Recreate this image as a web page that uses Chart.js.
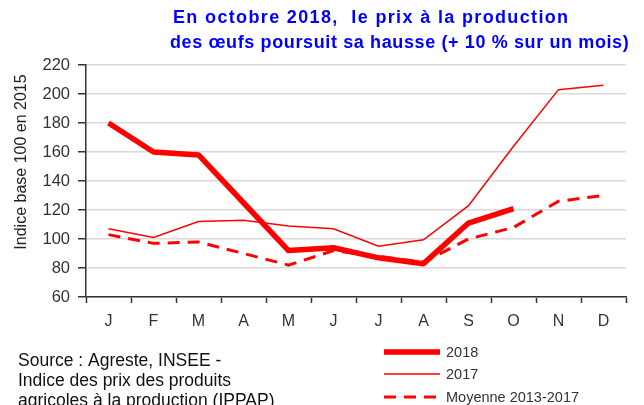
<!DOCTYPE html>
<html>
<head>
<meta charset="utf-8">
<script src="https://cdn.jsdelivr.net/npm/chart.js@4"></script>
<style>
  html, body { margin: 0; padding: 0; background: #fff; }
  #wrap { width: 644px; height: 405px; position: relative; }
</style>
</head>
<body>
<div id="wrap"><canvas id="myChart"></canvas></div>
<script>
"use strict";

const months = ['J', 'F', 'M', 'A', 'M', 'J', 'J', 'A', 'S', 'O', 'N', 'D'];
const values2018 = [180, 160, 158, 125, 92, 94, 87, 83, 111, 121, null, null];
const values2017 = [107, 101, 112, 113, 109, 107, 95, 99.5, 123, 164, 203, 206];
const valuesMoyenne = [103, 97, 98, 90, 82, 92, 88, 84, 100, 108, 126, 130];
const yTicks = { min: 60, max: 220, step: 20 };

const titleLines = [
    'En octobre 2018,  le prix à la production',
    'des œufs poursuit sa hausse (+ 10 % sur un mois)'
];
const yTitle = 'Indice base 100 en 2015';
const sourceLines = [
    'Source : Agreste, INSEE -',
    'Indice des prix des produits',
    'agricoles à la production (IPPAP)'
];

const FONT = '"Liberation Sans", Arial, sans-serif';

const extrasPlugin = {
    id: 'extras',
    afterDraw(chart) {
        const ctx = chart.ctx;
        ctx.save();

        // title, the source has rather loose letter spacing
        ctx.font = `bold 18px ${FONT}`;
        ctx.fillStyle = '#0000ff';
        ctx.textAlign = 'left';
        ctx.textBaseline = 'middle';
        ctx.letterSpacing = '1.35px';
        ctx.fillText(titleLines[0], 173, 18);
        ctx.letterSpacing = '0.62px';
        ctx.fillText(titleLines[1], 170, 43);
        ctx.letterSpacing = '0px';

        // y axis title
        ctx.save();
        ctx.translate(22, 162);
        ctx.rotate(-Math.PI / 2);
        ctx.textAlign = 'center';
        ctx.font = `16px ${FONT}`;
        ctx.fillStyle = '#222';
        ctx.fillText(yTitle, 0, 0);
        ctx.restore();

        // source
        ctx.font = `17.5px ${FONT}`;
        ctx.fillStyle = '#111';
        ctx.textAlign = 'left';
        sourceLines.forEach((line, i) => {
            ctx.fillText(line, 18, 361 + i * 20);
        });

        // legend
        const items = chart.data.datasets;
        const rows = [352, 374, 397];
        items.forEach((ds, i) => {
            ctx.beginPath();
            ctx.strokeStyle = ds.borderColor;
            ctx.lineWidth = ds.borderWidth;
            ctx.setLineDash(ds.borderDash || []);
            ctx.moveTo(384, rows[i]);
            ctx.lineTo(440, rows[i]);
            ctx.stroke();
            ctx.setLineDash([]);
            ctx.font = `14.5px ${FONT}`;
            ctx.fillStyle = '#333';
            ctx.fillText(ds.label, 446, rows[i] + 1);
        });

        ctx.restore();
    }
};

new Chart(document.getElementById('myChart'), {
    type: 'line',
    data: {
        labels: months,
        datasets: [
            {
                label: '2018',
                data: values2018,
                borderColor: '#ff0000',
                borderWidth: 5.5,
                borderJoinStyle: 'round',
                pointRadius: 0,
                spanGaps: false
            },
            {
                label: '2017',
                data: values2017,
                borderColor: '#ff0000',
                borderWidth: 1.5,
                pointRadius: 0
            },
            {
                label: 'Moyenne 2013-2017',
                data: valuesMoyenne,
                borderColor: '#ff0000',
                borderWidth: 3,
                borderDash: [12, 8],
                pointRadius: 0
            }
        ]
    },
    options: {
        responsive: true,
        maintainAspectRatio: false,
        animation: false,
        layout: {
            padding: { top: 65, right: 18, left: 0, bottom: 0 }
        },
        plugins: {
            legend: { display: false },
            tooltip: { enabled: false },
            title: { display: false }
        },
        scales: {
            x: {
                offset: true,
                grid: {
                    offset: true,
                    drawOnChartArea: false,
                    drawTicks: true,
                    tickLength: 6,
                    tickColor: '#333',
                    tickWidth: 1.5
                },
                border: { color: '#333', width: 1.5 },
                ticks: {
                    padding: 9,
                    color: '#333',
                    font: { family: FONT, size: 16 }
                },
                afterFit(scale) { scale.height = 108; }
            },
            y: {
                min: yTicks.min,
                max: yTicks.max,
                grid: {
                    color: '#d9d9d9',
                    lineWidth: 1.5,
                    tickLength: 8,
                    tickColor: '#333',
                    tickWidth: 1.5
                },
                border: { color: '#333', width: 1.5 },
                ticks: {
                    stepSize: yTicks.step,
                    padding: 8,
                    color: '#333',
                    font: { family: FONT, size: 16.5 }
                },
                afterFit(scale) { scale.width = 86; }
            }
        }
    },
    plugins: [extrasPlugin]
});
</script>
</body>
</html>
